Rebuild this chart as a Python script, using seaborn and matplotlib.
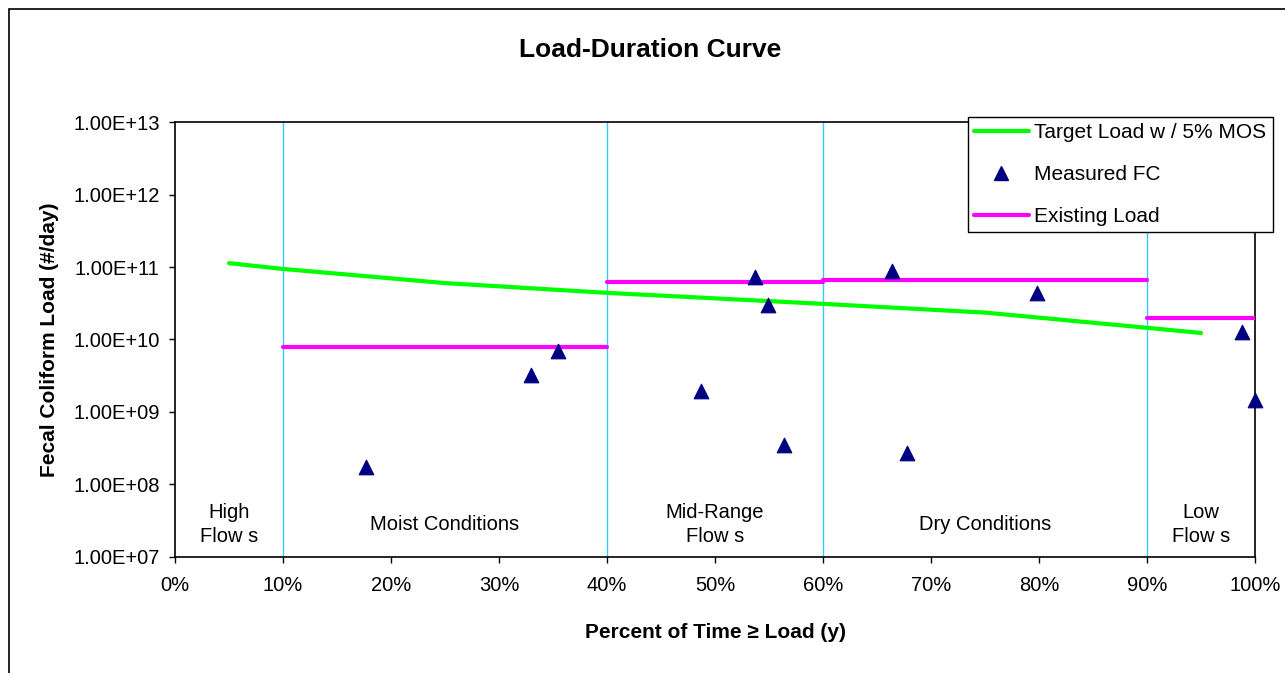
import matplotlib
matplotlib.use("Agg")
import matplotlib.pyplot as plt
import matplotlib.ticker as mticker
from matplotlib.lines import Line2D
from matplotlib.patches import Rectangle
import numpy as np
import pandas as pd
import seaborn as sns

# target load curve (fraction of time, #/day)
target_x = [0.05, 0.10, 0.25, 0.40, 0.60, 0.75, 0.90, 0.95]
target_y = [1.13e11, 9.4e10, 6.0e10, 4.4e10, 3.1e10, 2.35e10, 1.45e10, 1.23e10]

# measured fecal coliform samples
meas_x = [0.177, 0.330, 0.355, 0.487, 0.537, 0.549, 0.564, 0.664, 0.678, 0.798, 0.988, 1.000]
meas_y = [1.75e8, 3.2e9, 6.9e9, 1.95e9, 7.2e10, 3.0e10, 3.5e8, 8.8e10, 2.7e8, 4.4e10, 1.27e10, 1.48e9]

# existing load by flow zone
exist_start = [0.10, 0.40, 0.60, 0.90]
exist_end = [0.40, 0.60, 0.90, 1.00]
exist_load = [7.9e9, 6.2e10, 6.6e10, 2.0e10]

# flow zone boundaries and labels
zone_bounds = [0.10, 0.40, 0.60, 0.90]
zone_x = [0.05, 0.25, 0.50, 0.75, 0.95]
zone_labels = ["High\nFlow s", "Moist Conditions", "Mid-Range\nFlow s", "Dry Conditions", "Low\nFlow s"]

sns.set_theme(style="white")
plt.rcParams["font.family"] = ["Liberation Sans", "DejaVu Sans"]
plt.rcParams["text.color"] = "black"
plt.rcParams["axes.labelcolor"] = "black"

fig = plt.figure(figsize=(12.85, 6.73), dpi=100)
ax = fig.add_axes([0.1362, 0.1724, 0.9767 - 0.1362, 0.8187 - 0.1724])

# outer chart frame
fig.patches.append(Rectangle((0.007, -0.05), 1.1, 0.037 + 1.0, transform=fig.transFigure,
                             fill=False, edgecolor="black", lw=1.2, zorder=0))

for b in zone_bounds:
    ax.axvline(b, color="#33CCFF", lw=1, zorder=1)

green = "#00FF00"
magenta = "#FF00FF"
navy = "#000080"

sns.lineplot(x=target_x, y=target_y, color=green, lw=3, ax=ax, zorder=3)
for s, e, v in zip(exist_start, exist_end, exist_load):
    sns.lineplot(x=[s, e], y=[v, v], color=magenta, lw=3, ax=ax, zorder=3)
sns.scatterplot(x=meas_x, y=meas_y, marker="^", s=110, color=navy, edgecolor=navy,
                ax=ax, zorder=4, clip_on=False)

ax.set_yscale("log")
ax.set_xlim(0, 1)
ax.set_ylim(1e7, 1e13)
ax.set_xticks(np.arange(0, 1.01, 0.1))
ax.xaxis.set_major_formatter(mticker.FuncFormatter(lambda v, p: f"{v*100:.0f}%"))
ax.set_yticks([10.0 ** k for k in range(7, 14)])
ax.yaxis.set_major_formatter(mticker.FuncFormatter(lambda v, p: f"{v:.2E}"))
ax.yaxis.set_minor_locator(mticker.NullLocator())
ax.tick_params(axis="both", which="major", direction="out", length=4, width=1,
               labelsize=14.5, colors="black", left=True, bottom=True)
ax.tick_params(axis="y", pad=7)
ax.tick_params(axis="x", pad=10)
for sp in ax.spines.values():
    sp.set_color("black")
    sp.set_linewidth(1.2)

for zx, zl in zip(zone_x, zone_labels):
    ax.text(zx, 10 ** 7.45, zl, ha="center", va="center", fontsize=14.5, linespacing=1.3)

ax.set_xlabel("Percent of Time \u2265 Load (y)", fontsize=15, fontweight="bold", labelpad=20)
ax.set_ylabel("Fecal Coliform Load (#/day)", fontsize=15, fontweight="bold", labelpad=10)
fig.text(0.506, 0.926, "Load-Duration Curve", ha="center", va="center",
         fontsize=19, fontweight="bold", color="black")

handles = [Line2D([], [], color=green, lw=3),
           Line2D([], [], color=navy, marker="^", ls="none", markersize=10),
           Line2D([], [], color=magenta, lw=3)]
leg = ax.legend(handles, ["Target Load w / 5% MOS", "Measured FC", "Existing Load"],
                loc="upper left", bbox_to_anchor=(0.753, 0.826), bbox_transform=fig.transFigure,
                borderaxespad=0, fontsize=15, frameon=True, fancybox=False, framealpha=1,
                edgecolor="black", handlelength=2.65, handletextpad=0.25, labelspacing=1.1,
                borderpad=0.3)
leg.get_frame().set_linewidth(1)

fig.savefig("out.png", dpi=100)
